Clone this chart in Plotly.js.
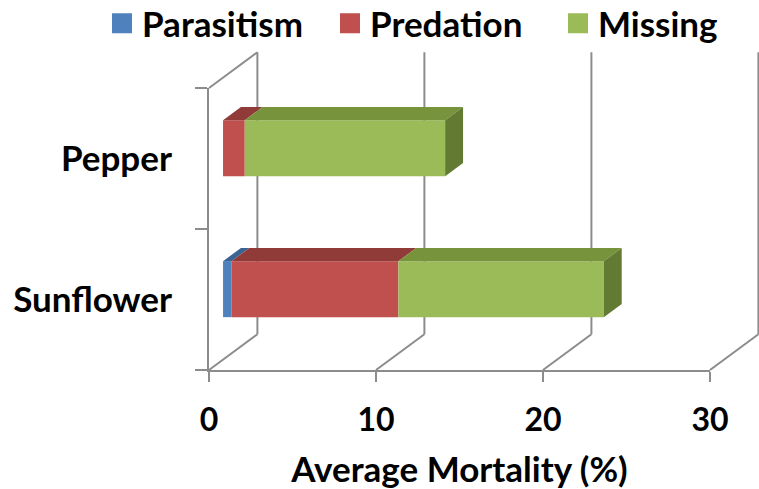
<!DOCTYPE html>
<html>
<head>
<meta charset="utf-8">
<script src="https://cdn.plot.ly/plotly-3.0.1.min.js"></script>
<style>html,body{margin:0;padding:0;background:#fff}#chart{width:759px;height:489px}</style>
</head>
<body>
<div id="chart"></div>
<script>
// ---- data ----
const categories = ['Sunflower', 'Pepper'];
const seriesNames = ['Parasitism', 'Predation', 'Missing'];
const parasitism = [0.5, 0];
const predation = [10.0, 1.3];
const missing = [12.3, 12.0];
const xTickVals = [0, 10, 20, 30];
const xTickText = ['0', '10', '20', '30'];
const yBoundaryTicks = [0, 1, 2];

// ---- styling / geometry ----
const frontColors = ['#4F81BD', '#C0504D', '#9BBB59'];
const topColors = ['#3A6494', '#913B39', '#77933C'];
const sideColor = '#627A32';
const gridColor = '#8C8C8C';
const FONT = 'Lato, "Open Sans", sans-serif';
const FS = 35, FS_TICK = 32;

const W = 759, H = 489;
const L = 190, R = 0, T = 40, B = 99;
const X0PX = 209, X30PX = 710, Y0PX = 370, CATPX = 141;
const KX = (X30PX - X0PX) / 30;          // px per x unit
const DX = 48.4 / KX, DY = 35.7 / CATPX; // full depth offset in data units
const F0 = 0.29, F1 = 0.66;              // bar depth band
const BARW = 56 / CATPX;
const plotW = W - L - R, plotH = H - T - B;

const series = [parasitism, predation, missing];
const nCat = categories.length;
const catPos = categories.map((c, i) => i + 0.5 + F0 * DY);

const traces = [];
const cum = new Array(nCat).fill(0);
const bases = [];
series.forEach((vals, s) => {
  const base = cum.map(c => F0 * DX + c);
  bases.push(base);
  traces.push({
    type: 'bar', orientation: 'h', name: seriesNames[s],
    x: vals, y: catPos, base: base, width: BARW,
    marker: {color: frontColors[s], line: {width: 0}},
    showlegend: false, hoverinfo: 'x+name'
  });
  vals.forEach((v, i) => { cum[i] += v; });
});

// top faces
const ddx = (F1 - F0) * DX, ddy = (F1 - F0) * DY;
series.forEach((vals, s) => {
  const xs = [], ys = [];
  vals.forEach((v, i) => {
    if (v <= 0) return;
    const x0 = bases[s][i], x1 = x0 + v, yT = catPos[i] + BARW / 2;
    xs.push(x0, x1, x1 + ddx, x0 + ddx, x0, null);
    ys.push(yT, yT, yT + ddy, yT + ddy, yT, null);
  });
  traces.push({
    type: 'scatter', mode: 'lines', x: xs, y: ys, fill: 'toself',
    fillcolor: topColors[s], line: {width: 0, color: topColors[s]},
    showlegend: false, hoverinfo: 'skip'
  });
});
// right side faces
{
  const xs = [], ys = [];
  for (let i = 0; i < nCat; i++) {
    const xe = F0 * DX + cum[i];
    const yT = catPos[i] + BARW / 2, yB = catPos[i] - BARW / 2;
    xs.push(xe, xe, xe + ddx, xe + ddx, xe, null);
    ys.push(yB, yT, yT + ddy, yB + ddy, yB, null);
  }
  traces.push({
    type: 'scatter', mode: 'lines', x: xs, y: ys, fill: 'toself',
    fillcolor: sideColor, line: {width: 0, color: sideColor},
    showlegend: false, hoverinfo: 'skip'
  });
}
// legend entries
seriesNames.forEach((n, s) => {
  traces.push({
    type: 'scatter', mode: 'markers', name: n, x: [null], y: [null],
    xaxis: 'x2', yaxis: 'y2',
    marker: {symbol: 'square', size: 16, color: frontColors[s], line: {width: 4, color: frontColors[s]}},
    showlegend: true, hoverinfo: 'skip'
  });
});

// wall / floor lines
const shapes = [];
const ln = (x0, y0, x1, y1) => shapes.push({type: 'line', xref: 'x', yref: 'y', x0, y0, x1, y1, layer: 'below', line: {color: gridColor, width: 2}});
xTickVals.forEach(t => {
  ln(t, 0, t + DX, DY);              // floor diagonal
  ln(t + DX, DY, t + DX, 2 + DY);    // back wall gridline
});
ln(0, 2, DX, 2 + DY);                // left wall top edge

const layout = {
  width: W, height: H,
  margin: {l: L, r: R, t: T, b: B, autoexpand: false},
  paper_bgcolor: '#ffffff', plot_bgcolor: 'rgba(0,0,0,0)',
  barmode: 'overlay',
  font: {family: FONT, size: FS, color: '#000', weight: 700},
  showlegend: true,
  legend: {
    orientation: 'h', x: (102 - L) / plotW, xanchor: 'left', y: 1 + (T + 6) / plotH, yanchor: 'top',
    font: {family: FONT, size: FS, color: '#000', weight: 700},
    entrywidth: 183, entrywidthmode: 'pixels',
    bgcolor: 'rgba(0,0,0,0)', itemclick: false, traceorder: 'normal'
  },
  xaxis: {range: [(L - X0PX) / KX, (W - R - X0PX) / KX], visible: false, fixedrange: true},
  yaxis: {range: [-(T + plotH - Y0PX) / CATPX, (Y0PX - T) / CATPX], visible: false, fixedrange: true},
  xaxis2: {
    domain: [(X0PX - L) / plotW, (X30PX - L) / plotW], range: [0, 30], anchor: 'y2',
    showline: true, linecolor: gridColor, linewidth: 2, showgrid: false, zeroline: false,
    tickmode: 'array', tickvals: xTickVals, ticktext: xTickText,
    ticks: 'outside', ticklen: 10, tickwidth: 2, tickcolor: gridColor, ticklabelstandoff: 11,
    tickfont: {family: FONT, size: FS_TICK, color: '#000', weight: 700},
    title: {text: 'Average Mortality (%)', font: {family: FONT, size: FS, color: '#000', weight: 700}, standoff: 21},
    fixedrange: true
  },
  yaxis2: {
    domain: [(T + plotH - Y0PX) / plotH, (T + plotH - (Y0PX - 2 * CATPX)) / plotH], range: [0, 2], anchor: 'x2',
    showline: true, linecolor: gridColor, linewidth: 2, showgrid: false, zeroline: false,
    tickmode: 'array', tickvals: categories.map((c, i) => i + 0.5), ticktext: categories,
    ticks: '', ticklabelstandoff: 28,
    minor: {tickmode: 'array', tickvals: yBoundaryTicks, ticks: 'outside', ticklen: 12, tickwidth: 2, tickcolor: gridColor, showgrid: false},
    tickfont: {family: FONT, size: FS, color: '#000', weight: 700},
    fixedrange: true
  },
  shapes: shapes
};

Plotly.newPlot('chart', traces, layout, {displayModeBar: false, staticPlot: true});
</script>
</body>
</html>
